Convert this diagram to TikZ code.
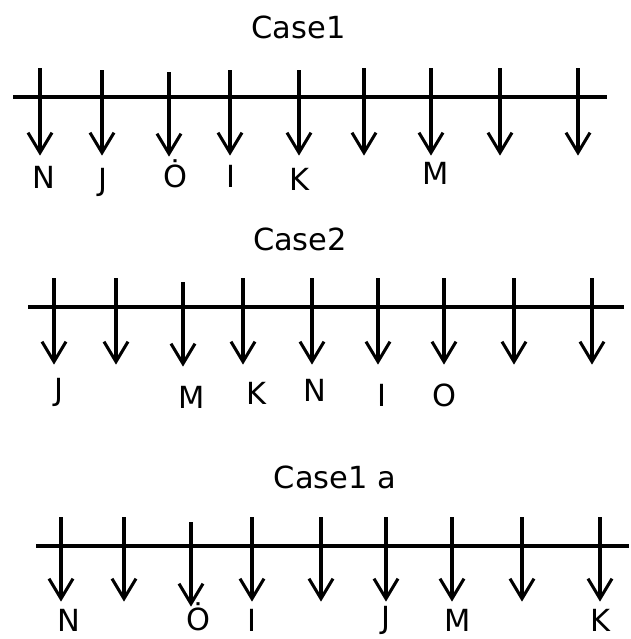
\documentclass[tikz,border=0pt]{standalone}
\usepackage{fontspec}
\setmainfont{DejaVu Sans}
\usepackage{tikz-network}
\usetikzlibrary{arrows.meta}

\newcommand{\titlesize}{\fontsize{26}{30}\selectfont}
\newcommand{\lettersize}{\fontsize{26}{30}\selectfont}
\tikzset{
  rail/.style={line width=2.6pt, shorten <=-2.5pt, shorten >=-2.5pt},
  drop/.style={line width=2.6pt, shorten <=-2.5pt, shorten >=-2.5pt, -{Straight Barb[length=0.6cm, width=0.72cm]}},
  letter/.style={draw=none, fill=none, inner sep=0pt},
}

\begin{document}
\begin{tikzpicture}
\useasboundingbox (0,0) rectangle (18.9,-19.17);
% Case1
\Vertex[label=Case1, x=8.96, y=-0.83, size=0.1, fontsize=\titlesize, style=letter]{c1}
\Vertex[Pseudo, size=0, x=0.39, y=-2.91]{L1}
\Vertex[Pseudo, size=0, x=18.21, y=-2.91]{R1}
\Edge[color=black, style=rail](L1)(R1)
\Vertex[Pseudo, size=0, x=1.20, y=-2.04]{p11}
\Vertex[Pseudo, size=0, x=1.20, y=-4.68]{q11}
\Edge[color=black, style=drop](p11)(q11)
\Vertex[Pseudo, size=0, x=3.06, y=-2.10]{p12}
\Vertex[Pseudo, size=0, x=3.06, y=-4.68]{q12}
\Edge[color=black, style=drop](p12)(q12)
\Vertex[Pseudo, size=0, x=5.07, y=-2.16]{p13}
\Vertex[Pseudo, size=0, x=5.07, y=-4.71]{q13}
\Edge[color=black, style=drop](p13)(q13)
\Vertex[Pseudo, size=0, x=6.90, y=-2.10]{p14}
\Vertex[Pseudo, size=0, x=6.90, y=-4.68]{q14}
\Edge[color=black, style=drop](p14)(q14)
\Vertex[Pseudo, size=0, x=8.97, y=-2.10]{p15}
\Vertex[Pseudo, size=0, x=8.97, y=-4.68]{q15}
\Edge[color=black, style=drop](p15)(q15)
\Vertex[Pseudo, size=0, x=10.92, y=-2.04]{p16}
\Vertex[Pseudo, size=0, x=10.92, y=-4.68]{q16}
\Edge[color=black, style=drop](p16)(q16)
\Vertex[Pseudo, size=0, x=12.93, y=-2.04]{p17}
\Vertex[Pseudo, size=0, x=12.93, y=-4.68]{q17}
\Edge[color=black, style=drop](p17)(q17)
\Vertex[Pseudo, size=0, x=15.00, y=-2.04]{p18}
\Vertex[Pseudo, size=0, x=15.00, y=-4.68]{q18}
\Edge[color=black, style=drop](p18)(q18)
\Vertex[Pseudo, size=0, x=17.34, y=-2.04]{p19}
\Vertex[Pseudo, size=0, x=17.34, y=-4.68]{q19}
\Edge[color=black, style=drop](p19)(q19)
\Vertex[label=N, x=1.32, y=-5.31, size=0.1, fontsize=\lettersize, style=letter]{N1}
\Vertex[label=J, x=3.09, y=-5.46, size=0.1, fontsize=\lettersize, style=letter]{J1}
\Vertex[label=Ȯ, x=5.25, y=-5.21, size=0.1, fontsize=\lettersize, style=letter]{O1}
\Vertex[label=I, x=6.93, y=-5.28, size=0.1, fontsize=\lettersize, style=letter]{I1}
\Vertex[label=K, x=8.97, y=-5.37, size=0.1, fontsize=\lettersize, style=letter]{K1}
\Vertex[label=M, x=13.08, y=-5.19, size=0.1, fontsize=\lettersize, style=letter]{M1}
% Case2
\Vertex[label=Case2, x=9.00, y=-7.17, size=0.1, fontsize=\titlesize, style=letter]{c2}
\Vertex[Pseudo, size=0, x=0.84, y=-9.21]{L2}
\Vertex[Pseudo, size=0, x=18.72, y=-9.21]{R2}
\Edge[color=black, style=rail](L2)(R2)
\Vertex[Pseudo, size=0, x=1.62, y=-8.34]{p21}
\Vertex[Pseudo, size=0, x=1.62, y=-10.95]{q21}
\Edge[color=black, style=drop](p21)(q21)
\Vertex[Pseudo, size=0, x=3.48, y=-8.34]{p22}
\Vertex[Pseudo, size=0, x=3.48, y=-10.95]{q22}
\Edge[color=black, style=drop](p22)(q22)
\Vertex[Pseudo, size=0, x=5.49, y=-8.46]{p23}
\Vertex[Pseudo, size=0, x=5.49, y=-11.01]{q23}
\Edge[color=black, style=drop](p23)(q23)
\Vertex[Pseudo, size=0, x=7.29, y=-8.34]{p24}
\Vertex[Pseudo, size=0, x=7.29, y=-10.95]{q24}
\Edge[color=black, style=drop](p24)(q24)
\Vertex[Pseudo, size=0, x=9.36, y=-8.34]{p25}
\Vertex[Pseudo, size=0, x=9.36, y=-10.95]{q25}
\Edge[color=black, style=drop](p25)(q25)
\Vertex[Pseudo, size=0, x=11.34, y=-8.34]{p26}
\Vertex[Pseudo, size=0, x=11.34, y=-10.95]{q26}
\Edge[color=black, style=drop](p26)(q26)
\Vertex[Pseudo, size=0, x=13.32, y=-8.34]{p27}
\Vertex[Pseudo, size=0, x=13.32, y=-10.95]{q27}
\Edge[color=black, style=drop](p27)(q27)
\Vertex[Pseudo, size=0, x=15.42, y=-8.34]{p28}
\Vertex[Pseudo, size=0, x=15.42, y=-10.95]{q28}
\Edge[color=black, style=drop](p28)(q28)
\Vertex[Pseudo, size=0, x=17.76, y=-8.34]{p29}
\Vertex[Pseudo, size=0, x=17.76, y=-10.95]{q29}
\Edge[color=black, style=drop](p29)(q29)
\Vertex[label=J, x=1.77, y=-11.76, size=0.1, fontsize=\lettersize, style=letter]{J2}
\Vertex[label=M, x=5.76, y=-11.91, size=0.1, fontsize=\lettersize, style=letter]{M2}
\Vertex[label=K, x=7.68, y=-11.79, size=0.1, fontsize=\lettersize, style=letter]{K2}
\Vertex[label=N, x=9.45, y=-11.70, size=0.1, fontsize=\lettersize, style=letter]{N2}
\Vertex[label=I, x=11.46, y=-11.85, size=0.1, fontsize=\lettersize, style=letter]{I2}
\Vertex[label=O, x=13.32, y=-11.85, size=0.1, fontsize=\lettersize, style=letter]{O2}
% Case1 a
\Vertex[label=Case1 a, x=10.05, y=-14.33, size=0.1, fontsize=\titlesize, style=letter]{c3}
\Vertex[Pseudo, size=0, x=1.08, y=-16.38]{L3}
\Vertex[Pseudo, size=0, x=18.87, y=-16.38]{R3}
\Edge[color=black, style=rail](L3)(R3)
\Vertex[Pseudo, size=0, x=1.83, y=-15.51]{p31}
\Vertex[Pseudo, size=0, x=1.83, y=-18.06]{q31}
\Edge[color=black, style=drop](p31)(q31)
\Vertex[Pseudo, size=0, x=3.72, y=-15.51]{p32}
\Vertex[Pseudo, size=0, x=3.72, y=-18.06]{q32}
\Edge[color=black, style=drop](p32)(q32)
\Vertex[Pseudo, size=0, x=5.73, y=-15.66]{p33}
\Vertex[Pseudo, size=0, x=5.73, y=-18.21]{q33}
\Edge[color=black, style=drop](p33)(q33)
\Vertex[Pseudo, size=0, x=7.56, y=-15.51]{p34}
\Vertex[Pseudo, size=0, x=7.56, y=-18.06]{q34}
\Edge[color=black, style=drop](p34)(q34)
\Vertex[Pseudo, size=0, x=9.63, y=-15.51]{p35}
\Vertex[Pseudo, size=0, x=9.63, y=-18.06]{q35}
\Edge[color=black, style=drop](p35)(q35)
\Vertex[Pseudo, size=0, x=11.58, y=-15.51]{p36}
\Vertex[Pseudo, size=0, x=11.58, y=-18.06]{q36}
\Edge[color=black, style=drop](p36)(q36)
\Vertex[Pseudo, size=0, x=13.56, y=-15.51]{p37}
\Vertex[Pseudo, size=0, x=13.56, y=-18.06]{q37}
\Edge[color=black, style=drop](p37)(q37)
\Vertex[Pseudo, size=0, x=15.66, y=-15.51]{p38}
\Vertex[Pseudo, size=0, x=15.66, y=-18.06]{q38}
\Edge[color=black, style=drop](p38)(q38)
\Vertex[Pseudo, size=0, x=18.00, y=-15.51]{p39}
\Vertex[Pseudo, size=0, x=18.00, y=-18.06]{q39}
\Edge[color=black, style=drop](p39)(q39)
\Vertex[label=N, x=2.07, y=-18.60, size=0.1, fontsize=\lettersize, style=letter]{N3}
\Vertex[label=Ȯ, x=5.94, y=-18.51, size=0.1, fontsize=\lettersize, style=letter]{O3}
\Vertex[label=I, x=7.56, y=-18.60, size=0.1, fontsize=\lettersize, style=letter]{I3}
\Vertex[label=J, x=11.58, y=-18.60, size=0.1, fontsize=\lettersize, style=letter]{J3}
\Vertex[label=M, x=13.74, y=-18.60, size=0.1, fontsize=\lettersize, style=letter]{M3}
\Vertex[label=K, x=18.00, y=-18.60, size=0.1, fontsize=\lettersize, style=letter]{K3}
\end{tikzpicture}
\end{document}
